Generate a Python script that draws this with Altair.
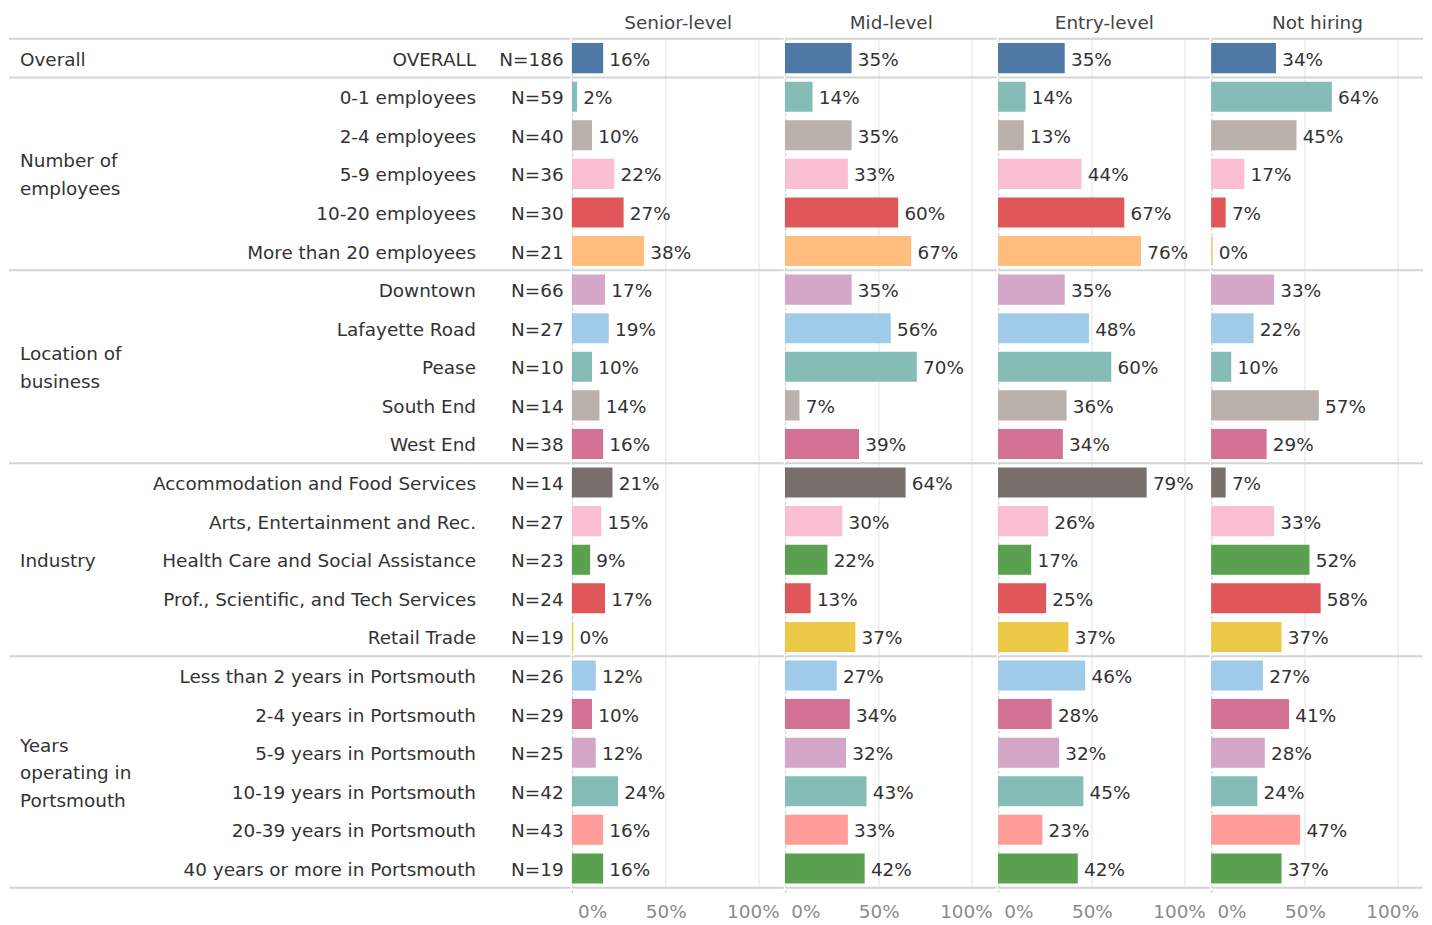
import altair as alt
import pandas as pd

FONT = "DejaVu Sans"
FS = 18.5
TXT = "#333333"
LINE = "#d4d4d4"
GRID = "#ececec"

levels = ["Senior-level", "Mid-level", "Entry-level", "Not hiring"]

group_names = ["Overall", "Number of\nemployees", "Location of\nbusiness", "Industry",
               "Years\noperating in\nPortsmouth"]
group_sizes = [1, 5, 5, 5, 6]

categories = [
    "OVERALL",
    "0-1 employees", "2-4 employees", "5-9 employees", "10-20 employees", "More than 20 employees",
    "Downtown", "Lafayette Road", "Pease", "South End", "West End",
    "Accommodation and Food Services", "Arts, Entertainment and Rec.",
    "Health Care and Social Assistance", "Prof., Scientific, and Tech Services", "Retail Trade",
    "Less than 2 years in Portsmouth", "2-4 years in Portsmouth", "5-9 years in Portsmouth",
    "10-19 years in Portsmouth", "20-39 years in Portsmouth", "40 years or more in Portsmouth",
]
n_values = [186, 59, 40, 36, 30, 21, 66, 27, 10, 14, 38, 14, 27, 23, 24, 19, 26, 29, 25, 42, 43, 19]
bar_colors = [
    "#4e79a7",
    "#86bcb6", "#bab0ac", "#fabfd2", "#e15759", "#ffbe7d",
    "#d4a6c8", "#a0cbe8", "#86bcb6", "#bab0ac", "#d37295",
    "#79706e", "#fabfd2", "#59a14f", "#e15759", "#edc948",
    "#a0cbe8", "#d37295", "#d4a6c8", "#86bcb6", "#ff9d9a", "#59a14f",
]
senior = [16, 2, 10, 22, 27, 38, 17, 19, 10, 14, 16, 21, 15, 9, 17, 0, 12, 10, 12, 24, 16, 16]
mid = [35, 14, 35, 33, 60, 67, 35, 56, 70, 7, 39, 64, 30, 22, 13, 37, 27, 34, 32, 43, 33, 42]
entry = [35, 14, 13, 44, 67, 76, 35, 48, 60, 36, 34, 79, 26, 17, 25, 37, 46, 28, 32, 45, 23, 42]
not_hiring = [34, 64, 45, 17, 7, 0, 33, 22, 10, 57, 29, 7, 33, 52, 58, 37, 27, 41, 28, 24, 47, 37]
series = [senior, mid, entry, not_hiring]

NROWS = len(categories)
ROW_H = 38.75
H = NROWS * ROW_H
LEFT_W = 564
PANEL_W = 212
XMAX = PANEL_W / 187.0
LINE_H = 28.0
DY = 1.5

# ---- data tables ----
rows = pd.DataFrame({
    "row": list(range(NROWS)),
    "category": categories,
    "n": [f"N={v}" for v in n_values],
    "color": bar_colors,
})
rows["mid"] = rows["row"] + 0.5
rows["y0"] = rows["row"] + 0.13
rows["y1"] = rows["row"] + 0.87

starts = [sum(group_sizes[:i]) for i in range(len(group_sizes))]
glines = []
for name, s, n in zip(group_names, starts, group_sizes):
    parts = name.split("\n")
    center = s + n / 2
    for k, p in enumerate(parts):
        glines.append({"text": p,
                       "y": center + (k - (len(parts) - 1) / 2) * LINE_H / ROW_H})
groups = pd.DataFrame(glines)
bounds = pd.DataFrame({"b": starts + [NROWS]})

yscale = alt.Scale(domain=[0, NROWS], reverse=True, nice=False, zero=False)

# ---- left label table ----
left_rules = alt.Chart(bounds).mark_rule(color=LINE, strokeWidth=2).encode(
    y=alt.Y("b:Q", scale=yscale, axis=None), x=alt.value(0), x2=alt.value(LEFT_W))
group_text = alt.Chart(groups).mark_text(
    align="left", baseline="middle", dy=DY, font=FONT, fontSize=FS, color=TXT).encode(
    x=alt.value(11), y=alt.Y("y:Q", scale=yscale, axis=None), text="text:N")
cat_text = alt.Chart(rows).mark_text(
    align="right", baseline="middle", dy=DY, font=FONT, fontSize=FS, color=TXT).encode(
    x=alt.value(469), y=alt.Y("mid:Q", scale=yscale, axis=None), text="category:N")
n_text = alt.Chart(rows).mark_text(
    align="right", baseline="middle", dy=DY, font=FONT, fontSize=FS, color=TXT).encode(
    x=alt.value(557), y=alt.Y("mid:Q", scale=yscale, axis=None), text="n:N")
left = alt.layer(left_rules, group_text, cat_text, n_text).properties(
    width=LEFT_W, height=H, title=" ")

# ---- panels ----
xscale = alt.Scale(domain=[0, XMAX], nice=False, zero=True)
xaxis = alt.Axis(values=[0, 0.5, 1.0], format=".0%", grid=False, ticks=False,
                 domain=False, labelFontSize=FS, labelFont=FONT,
                 labelColor="#8a8a8a", labelPadding=15, title=None,
                 labelAlign={"condition": {"test": "datum.value == 0", "value": "left"},
                             "value": "center"},
                 labelOffset={"condition": [{"test": "datum.value == 0", "value": 5},
                                            {"test": "datum.value == 1", "value": -6}],
                              "value": 0},
                 labelFlush=False, labelOverlap=False)


def panel(level, values):
    df = rows.copy()
    df["value"] = [v / 100 for v in values]
    df["label"] = [f"{v}%" for v in values]
    df["zero"] = 0.0
    grid = alt.Chart(pd.DataFrame({"g": [0.5, 1.0]})).mark_rule(color=GRID, strokeWidth=1.5).encode(
        x=alt.X("g:Q", scale=xscale, axis=xaxis), y=alt.value(0), y2=alt.value(H))
    zero = alt.Chart(pd.DataFrame({"g": [0.0]})).mark_rule(
        color="#c8c8c8", strokeWidth=1, strokeDash=[3, 2]).encode(
        x=alt.X("g:Q", scale=xscale, axis=xaxis), y=alt.value(0), y2=alt.value(H + 6))
    seps = alt.Chart(bounds).mark_rule(color=LINE, strokeWidth=2).encode(
        y=alt.Y("b:Q", scale=yscale, axis=None), x=alt.value(0), x2=alt.value(PANEL_W))
    bars = alt.Chart(df).mark_rect(strokeWidth=1.5).encode(
        x=alt.X("value:Q", scale=xscale, axis=xaxis),
        x2="zero:Q",
        y=alt.Y("y0:Q", scale=yscale, axis=None),
        y2="y1:Q",
        color=alt.Color("color:N", scale=None),
        stroke=alt.Stroke("color:N", scale=None),
    )
    labels = alt.Chart(df).mark_text(
        align="left", baseline="middle", dx=7, dy=DY, font=FONT, fontSize=FS, color=TXT).encode(
        x=alt.X("value:Q", scale=xscale, axis=xaxis),
        y=alt.Y("mid:Q", scale=yscale, axis=None),
        text="label:N")
    return alt.layer(grid, seps, zero, bars, labels).properties(
        width=PANEL_W, height=H, title=level)


panels = [panel(lv, vals) for lv, vals in zip(levels, series)]

chart = alt.hconcat(left, *panels, spacing=0).properties(
    padding={"left": 0, "top": 4, "right": 0, "bottom": 0}
).configure_view(stroke=None).configure_title(
    font=FONT, fontSize=FS, fontWeight="normal", color="#444444", anchor="middle", offset=5
).configure_concat(spacing=0)

chart.save("out.html", embed_options={"renderer": "svg", "actions": False})
